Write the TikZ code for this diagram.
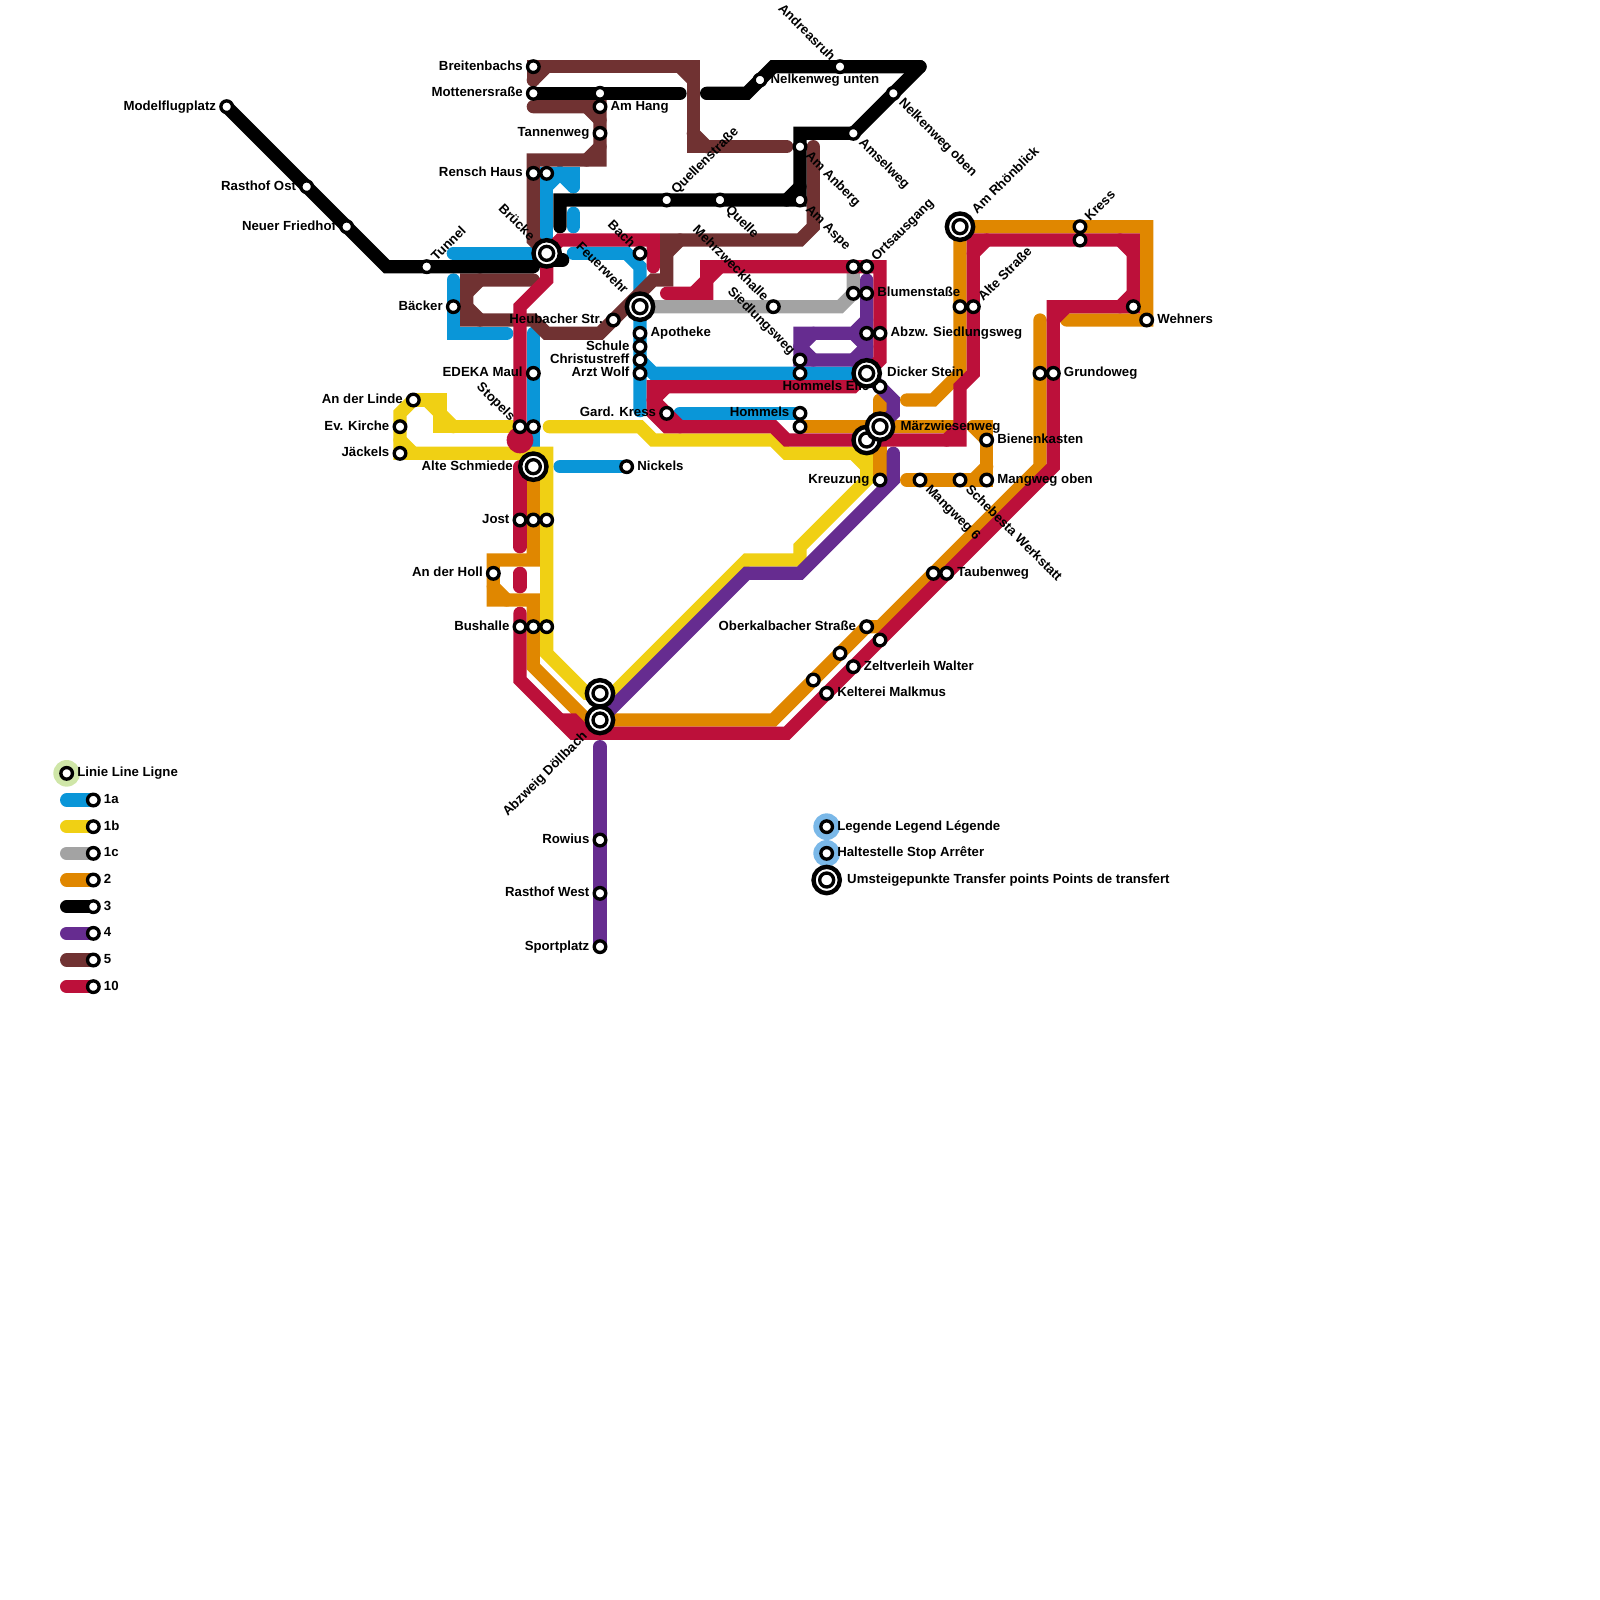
\documentclass[tikz,border=0pt]{standalone}
\usepackage{fontspec}
\setmainfont{Liberation Sans}
\usetikzlibrary{backgrounds}
\definecolor{cblue}{HTML}{0A96D8}
\definecolor{cyellow}{HTML}{F0D014}
\definecolor{cgrey}{HTML}{A3A3A3}
\definecolor{corange}{HTML}{E08700}
\definecolor{cpurple}{HTML}{662C90}
\definecolor{cbrown}{HTML}{703232}
\definecolor{cred}{HTML}{BC103A}
\definecolor{chalog}{HTML}{CFE6A8}
\definecolor{chalob}{HTML}{7AB8E8}
\tikzset{
  metro/.style={line width=3.78pt,line cap=round,line join=miter},
  lineA/.style={metro,cblue},
  lineB/.style={metro,cyellow},
  lineC/.style={metro,cgrey},
  lineTwo/.style={metro,corange},
  lineThree/.style={metro,black},
  lineFour/.style={metro,cpurple},
  lineFive/.style={metro,cbrown},
  lineTen/.style={metro,cred},
  lbl/.style={font=\fontsize{3.76}{4.5}\selectfont\bfseries,inner sep=0pt,outer sep=0pt,text=black,text height=3pt,text depth=1pt},
  halt/.style={circle,draw=black,fill=white,line width=0.95pt,minimum size=3.3pt,inner sep=0pt,outer sep=1.38pt},
  knot/.style={circle,draw=black,fill=white,line width=1.25pt,minimum size=7.5pt,inner sep=0pt,outer sep=2.1pt,label={[halt]center:}},
  every label/.style={lbl},
  up/.style={rotate=45,anchor=west},
  upend/.style={rotate=45,anchor=east},
  down/.style={rotate=-45,anchor=west},
  downend/.style={rotate=-45,anchor=east}
}
\begin{document}
\begin{tikzpicture}[x=0.133333cm,y=-0.133333cm]
  \useasboundingbox (0,0) rectangle (120,120);
  % ============ LINIE 3 ============
  \node[halt,label=left:Modelflugplatz] (modell) at (17,8) {};
  \node[halt,label=left:Rasthof Ost] (rastost) at (23,14) {};
  \node[halt,label=left:Neuer Friedhof] (friedhof) at (26,17) {};
  \node[halt,label={[up]45:Tunnel}] (tunnel) at (32,20) {};
  \node[halt,label=left:Mottenersraße] (mott) at (40,7) {};
  \node[halt] (hangob) at (45,7) {};
  \node[halt,label={[up]45:Quellenstraße}] (quellstr) at (50,15) {};
  \node[halt,label={[down]-45:Quelle}] (quelle) at (54,15) {};
  \node[halt,label={[down]-45:Am Aspe}] (aspe) at (60,15) {};
  \node[halt,label={[down]-45:Am Anberg}] (anberg) at (60,11) {};
  \node[halt,label={[down]-45:Amselweg}] (amsel) at (64,10) {};
  \node[halt,label={[down]-45:Nelkenweg oben}] (nelkob) at (67,7) {};
  \node[halt,label={[downend]135:Andreasruh}] (andreas) at (63,5) {};
  \node[halt,label=right:Nelkenweg unten] (nelkun) at (57,6) {};
  % ============ LINIE 5 ============
  \node[halt,label=left:Breitenbachs] (breit) at (40,5) {};
  \node[halt,label=right:Am Hang] (hang) at (45,8) {};
  \node[halt,label=left:Tannenweg] (tannen) at (45,10) {};
  \node[halt,label=left:Rensch Haus] (rensch) at (40,13) {};
  \node[halt,label=left:Heubacher Str.] (heub) at (46,24) {};
  % ============ LINIE 1 ============
  \node[halt] (renschb) at (41,13) {};
  \node[halt,label=left:Bäcker] (baecker) at (34,23) {};
  \node[halt,label={[downend]135:Bach}] (bach) at (48,19) {};
  \node[halt,label=right:Apotheke] (apo) at (48,25) {};
  \node[halt,label=left:Schule] (schule) at (48,26) {};
  \node[halt,label=left:Christustreff] (christ) at (48,27) {};
  \node[halt,label=left:Arzt Wolf] (arzt) at (48,28) {};
  \node[halt,label=left:EDEKA Maul] (edeka) at (40,28) {};
  \node[halt,label=left:Gard. Kress] (gard) at (50,31) {};
  \node[halt,label=left:Hommels] (homm) at (60,31) {};
  \node[halt] (hommb) at (60,32) {};
  \node[halt,label=right:Nickels] (nickels) at (47,35) {};
  \node[halt,label={[downend]135:Stopels}] (stopels) at (39,32) {};
  \node[halt] (stopelsb) at (40,32) {};
  \node[halt,label={[downend]135:Mehrzweckhalle}] (mehr) at (58,23) {};
  \node[halt,label={[downend]135:Siedlungsweg}] (siedl) at (60,27) {};
  \node[halt] (siedlb) at (60,28) {};
  \node[halt,label={[up]45:Ortsausgang}] (ortsaus) at (65,20) {};
  \node[halt] (ortsausb) at (64,20) {};
  \node[halt] (blumenb) at (64,22) {};
  \node[halt,label=right:Blumenstaße] (blumen) at (65,22) {};
  \node[halt] (abzwb) at (65,25) {};
  \node[halt,label=right:Abzw. Siedlungsweg] (abzw) at (66,25) {};
  \node[halt,label=left:Hommels Eile] (eile) at (66,29) {};
  % ============ LINIE 1b ============
  \node[halt,label=left:An der Linde] (linde) at (31,30) {};
  \node[halt,label=left:Ev. Kirche] (kirche) at (30,32) {};
  \node[halt,label=left:Jäckels] (jaeckels) at (30,34) {};
  \node[halt,label=left:Jost] (jost) at (39,39) {};
  \node[halt] (jostb) at (40,39) {};
  \node[halt] (jostc) at (41,39) {};
  \node[halt,label=left:An der Holl] (holl) at (37,43) {};
  \node[halt,label=left:Bushalle] (bus) at (39,47) {};
  \node[halt] (busb) at (40,47) {};
  \node[halt] (busc) at (41,47) {};
  \node[halt,label=left:Kreuzung] (kreuz) at (66,36) {};
  % ============ LINIE 2 / 10 ============
  \node[halt,label=right:Bienenkasten] (biene) at (74,33) {};
  \node[halt,label=right:Mangweg oben] (mangob) at (74,36) {};
  \node[halt,label={[down]-45:Mangweg 6}] (mangsix) at (69,36) {};
  \node[halt,label={[down]-45:Schebesta Werkstatt}] (scheb) at (72,36) {};
  \node[halt] (taubb) at (70,43) {};
  \node[halt,label=right:Taubenweg] (taub) at (71,43) {};
  \node[halt,label=left:Oberkalbacher Straße] (ober) at (65,47) {};
  \node[halt] (oberb) at (66,48) {};
  \node[halt] (zeltb) at (63,49) {};
  \node[halt,label=right:Zeltverleih Walter] (zelt) at (64,50) {};
  \node[halt] (keltb) at (61,51) {};
  \node[halt,label=right:Kelterei Malkmus] (kelt) at (62,52) {};
  \node[halt] (altb) at (72,23) {};
  \node[halt,label={[up]45:Alte Straße}] (altstr) at (73,23) {};
  \node[halt,label={[up]45:Kress}] (kress) at (81,17) {};
  \node[halt] (kressb) at (81,18) {};
  \node[halt] (grundb) at (78,28) {};
  \node[halt,label=right:Grundoweg] (grund) at (79,28) {};
  \node[halt] (wehb) at (85,23) {};
  \node[halt,label=right:Wehners] (weh) at (86,24) {};
  % ============ LINIE 4 ============
  \node[halt,label=left:Rowius] (rowius) at (45,63) {};
  \node[halt,label=left:Rasthof West] (rastwest) at (45,67) {};
  \node[halt,label=left:Sportplatz] (sport) at (45,71) {};
  % ---------- Umsteigepunkte ----------
  \node[knot,label={[downend]135:Brücke}] (bruecke) at (41,19) {};
  \node[knot,label={[downend]135:Feuerwehr}] (feuer) at (48,23) {};
  \node[knot,label=left:Alte Schmiede] (schmiede) at (40,35) {};
  \node[knot,label=right:Dicker Stein] (dicker) at (65,28) {};
  \node[knot] (kreuzknot) at (65,33) {};
  \node[knot,label=right:Märzwiesenweg] (maerz) at (66,32) {};
  \node[knot,label={[up]45:Am Rhönblick}] (rhoen) at (72,17) {};
  \node[knot] (doellb) at (45,52) {};
  \node[knot,label={[upend]225:Abzweig Döllbach}] (doell) at (45,54) {};
  % ---------- Legende ----------
  \node[halt,label=right:Linie Line Ligne] (linie) at (5,58) {};
  \node[halt,label=right:1a] (legA) at (7,60) {};
  \node[halt,label=right:1b] (legB) at (7,62) {};
  \node[halt,label=right:1c] (legC) at (7,64) {};
  \node[halt,label=right:2] (legTwo) at (7,66) {};
  \node[halt,label=right:3] (legThree) at (7,68) {};
  \node[halt,label=right:4] (legFour) at (7,70) {};
  \node[halt,label=right:5] (legFive) at (7,72) {};
  \node[halt,label=right:10] (legTen) at (7,74) {};
  \node[halt,label=right:Legende Legend Légende] (legende) at (62,62) {};
  \node[halt,label=right:Haltestelle Stop Arrêter] (haltest) at (62,64) {};
  \node[knot,label=right:Umsteigepunkte Transfer points Points de transfert] (umst) at (62,66) {};
  % ============ STRECKEN ============
  \begin{scope}[on background layer]
    \fill[chalog] (linie.center) circle (1);
    \fill[chalob] (legende.center) circle (1);
    \fill[chalob] (haltest.center) circle (1);
    \draw[lineA] (5,60) -- (legA.center);
    \draw[lineB] (5,62) -- (legB.center);
    \draw[lineC] (5,64) -- (legC.center);
    \draw[lineTwo] (5,66) -- (legTwo.center);
    \draw[lineThree] (5,68) -- (legThree.center);
    \draw[lineFour] (5,70) -- (legFour.center);
    \draw[lineFive] (5,72) -- (legFive.center);
    \draw[lineTen] (5,74) -- (legTen.center);
    % linie 1a
    \draw[lineA] (34,19) -- (bruecke.center) -- (renschb.center) -- (43,13) -- (43,14);
    \draw[lineA] (41,14) -- (42,13) -- (43,14);
    \draw[lineA] (43,16) -- (43,17);
    \draw[lineA] (43,19) -- (47,19) -- (48,20) -- (48,30.8);
    \draw[lineA] (48,27) -- (49,28) -- (dicker.center);
    \draw[lineA] (51,31) -- (homm.center);
    \draw[lineA] (34,21) -- (34,25) -- (38,25);
    \draw[lineA] (40,25) -- (40,33.5);
    \draw[lineA] (42,35) -- (nickels.center);
    % linie 1c
    \draw[lineC] (feuer.center) -- (63,23) -- (64,22) -- (ortsausb.center);
    % linie 1b
    \draw[lineB] (linde.center) -- (33,30) -- (33,32) -- (stopels.center);
    \draw[lineB] (32,30) -- (33,31) -- (34,32);
    \draw[lineB] (linde.center) -- (30,31) -- (30,34) -- (41,34) -- (41,49) -- (44,52) -- (doellb.center);
    \draw[lineB] (30,33) -- (31,34);
    \draw[lineB] (41.2,32) -- (48,32) -- (49,33) -- (58,33) -- (59,34) -- (65,34) -- (65,36) -- (60,41) -- (60,42) -- (56,42) -- (46,52) -- (doellb.center);
    \draw[lineB] (64,34) -- (65,35);
    % linie 2
    \draw[lineTwo] (schmiede.center) -- (40,42) -- (37,42) -- (37,45) -- (40,45) -- (40,50) -- (44,54) -- (58,54) -- (65,47) -- (66,47) -- (78,35) -- (78,24);
    \draw[lineTwo] (37,44) -- (38,45);
    \draw[lineTwo] (66,30) -- (kreuz.center);
    \draw[lineTwo] (hommb.center) -- (72,32);
    \draw[lineTwo] (73,32) -- (74,32) -- (mangob.center) -- (68,36);
    \draw[lineTwo] (73,32) -- (biene.center);
    \draw[lineTwo] (73,36) -- (74,35);
    \draw[lineTwo] (68,30) -- (70,30) -- (72,28) -- (rhoen.center) -- (86,17) -- (weh.center) -- (80,24);
    % linie 5
    \draw[lineFive] (40,6) -- (breit.center) -- (52,5) -- (52,11) -- (59,11);
    \draw[lineFive] (40,6) -- (41,5);
    \draw[lineFive] (51,5) -- (52,6);
    \draw[lineFive] (52,10) -- (53,11);
    \draw[lineFive] (40,8) -- (hang.center) -- (45,12) -- (40,12) -- (40,18) -- (bruecke.center);
    \draw[lineFive] (44,8) -- (45,9);
    \draw[lineFive] (44,12) -- (45,11);
    \draw[lineFive] (40,21) -- (35,21) -- (35,24) -- (40,24) -- (41,25) -- (45,25) -- (49,21) -- (50,21) -- (50,18) -- (60,18) -- (61,17) -- (61,11);
    \draw[lineFive] (35,22) -- (36,21);
    \draw[lineFive] (35,23) -- (36,24);
    \draw[lineFive] (50,19) -- (51,18);
    % linie 3
    \draw[lineThree] (modell.center) -- (29,20) -- (40,20);
    \draw[lineThree] (41,19.5) -- (42.2,19.5);
    \draw[lineThree] (42,17) -- (42,15) -- (aspe.center) -- (60,10) -- (amsel.center) -- (69,5);
    \draw[lineThree] (59,15) -- (60,14);
    \draw[lineThree] (69,5) -- (58,5) -- (56,7) -- (53,7);
    \draw[lineThree] (mott.center) -- (51,7);
    % linie 4
    \draw[lineFour] (65,21) -- (dicker.center) -- (67,30) -- (67,31) -- (maerz.center);
    \draw[lineFour] (65,24) -- (64,25) -- (60,25) -- (siedl.center) -- (65,27);
    \draw[lineFour] (60,26) -- (61,25);
    \draw[lineFour] (60,26) -- (61,27);
    \draw[lineFour] (65,26) -- (64,25);
    \draw[lineFour] (65,26) -- (64,27);
    \draw[lineFour] (doell.center) -- (56,43) -- (60,43) -- (67,36) -- (67,34);
    \draw[lineFour] (45,56) -- (sport.center);
    % linie 10
    \draw[lineTen] (bruecke.center) -- (42,18) -- (49,18) -- (49,20);
    \draw[lineTen] (bruecke.center) -- (41,21) -- (39,23) -- (stopels.center);
    \fill[cred] (39,33) circle (1);
    \draw[lineTen] (39,35) -- (39,41);
    \draw[lineTen] (39,43) -- (39,44);
    \draw[lineTen] (39,46) -- (39,51) -- (43,55) -- (59,55) -- (79,35) -- (79,23) -- (85,23) -- (85,18) -- (73,18) -- (73,28) -- (72,29) -- (72,33) -- (59,33) -- (58,32) -- (50,32) -- (49,31) -- (49,29) -- (64,29) -- (66,27) -- (66,20) -- (53,20) -- (53,22) -- (50,22);
    \draw[lineTen] (42,54) -- (43,54) -- (44,55);
    \draw[lineTen] (84,23) -- (85,22);
    \draw[lineTen] (84,18) -- (85,19);
    \draw[lineTen] (73,19) -- (74,18);
    \draw[lineTen] (79,24) -- (80,23);
    \draw[lineTen] (71,33) -- (72,32);
    \draw[lineTen] (49,30) -- (50,29);
    \draw[lineTen] (49,30) -- (51,32);
    \draw[lineTen] (53,21) -- (54,20);
    \draw[lineTen] (52,22) -- (53,21);
  \end{scope}
\end{tikzpicture}
\end{document}
